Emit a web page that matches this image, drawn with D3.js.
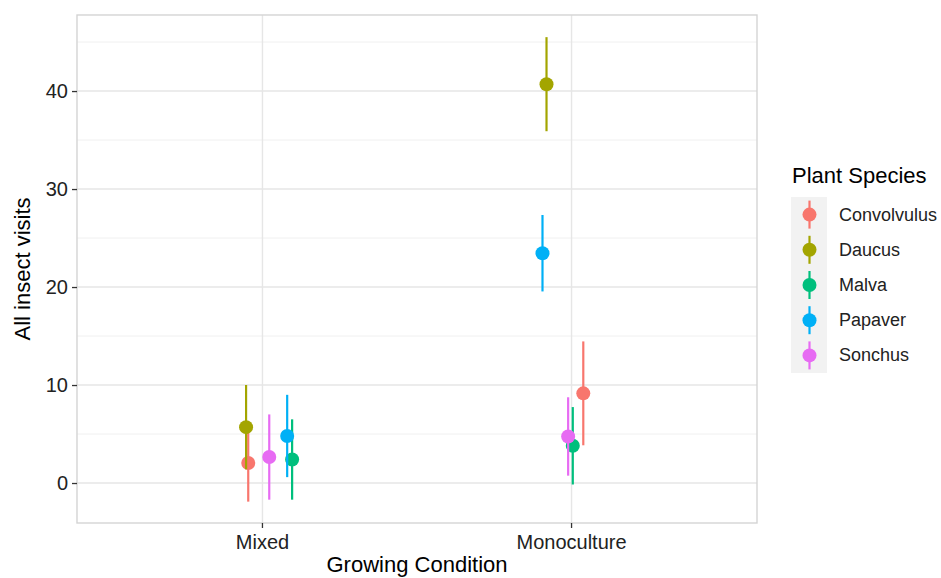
<!DOCTYPE html>
<html>
<head>
<meta charset="utf-8">
<script src="https://cdn.jsdelivr.net/npm/d3@7"></script>
<style>
  html, body { margin: 0; padding: 0; background: #fff; }
  svg { display: block; font-family: "Liberation Sans", Arial, sans-serif; }
</style>
</head>
<body>
<svg id="chart" width="941" height="578"></svg>
<script>
// ---- data ----
const conditions = ["Mixed", "Monoculture"];
const species = ["Convolvulus", "Daucus", "Malva", "Papaver", "Sonchus"];
const speciesColors = ["#F8766D", "#A3A500", "#00BF7D", "#00B0F6", "#E76BF3"];
// mean visits per species, [Mixed, Monoculture]
const meanMixed = [2.05, 5.7, 2.4, 4.8, 2.65];
const meanMono  = [9.15, 40.7, 3.8, 23.45, 4.75];
// error (± half-width)
const errMixed = [3.95, 4.3, 4.1, 4.2, 4.35];
const errMono  = [5.3, 4.8, 3.95, 3.9, 4.0];
// horizontal jitter (in category units)
const jitterMixed = [-0.046, -0.053, 0.096, 0.080, 0.022];
const jitterMono  = [0.038, -0.081, 0.004, -0.094, -0.011];
const yTicks = [0, 10, 20, 30, 40];
const yMinor = [5, 15, 25, 35, 45];

const rows = [];
species.forEach((s, i) => {
  rows.push({sp: s, ci: i, cond: "Mixed", m: meanMixed[i], e: errMixed[i], j: jitterMixed[i]});
  rows.push({sp: s, ci: i, cond: "Monoculture", m: meanMono[i], e: errMono[i], j: jitterMono[i]});
});

// ---- layout ----
const svg = d3.select("#chart");
const P = {left: 77, right: 757, top: 15, bottom: 523};

const y = d3.scaleLinear().domain([-4.08, 47.76]).range([P.bottom, P.top]);
const xc = d3.scaleLinear().domain([0.4, 2.6]).range([P.left, P.right]);
const xPos = c => xc(conditions.indexOf(c) + 1);
const color = d3.scaleOrdinal().domain(species).range(speciesColors);

const g = svg.append("g");

// grid
g.selectAll(".minor").data(yMinor).enter().append("line")
  .attr("x1", P.left).attr("x2", P.right)
  .attr("y1", d => y(d)).attr("y2", d => y(d))
  .attr("stroke", "#F0F0F0").attr("stroke-width", 1);
g.selectAll(".major").data(yTicks).enter().append("line")
  .attr("x1", P.left).attr("x2", P.right)
  .attr("y1", d => y(d)).attr("y2", d => y(d))
  .attr("stroke", "#E6E6E6").attr("stroke-width", 1.4);
g.selectAll(".vmajor").data(conditions).enter().append("line")
  .attr("x1", d => xPos(d)).attr("x2", d => xPos(d))
  .attr("y1", P.top).attr("y2", P.bottom)
  .attr("stroke", "#E6E6E6").attr("stroke-width", 1.4);

// marks
rows.forEach(r => {
  const cx = xc(conditions.indexOf(r.cond) + 1 + r.j);
  g.append("line")
    .attr("x1", cx).attr("x2", cx)
    .attr("y1", y(r.m - r.e)).attr("y2", y(r.m + r.e))
    .attr("stroke", color(r.sp)).attr("stroke-width", 2.2);
  g.append("circle")
    .attr("cx", cx).attr("cy", y(r.m)).attr("r", 7)
    .attr("fill", color(r.sp));
});

// panel border
g.append("rect")
  .attr("x", P.left).attr("y", P.top)
  .attr("width", P.right - P.left).attr("height", P.bottom - P.top)
  .attr("fill", "none").attr("stroke", "#D4D4D4").attr("stroke-width", 1.4);

// y axis
const yAxis = d3.axisLeft(y).tickValues(yTicks).tickSize(5).tickPadding(4);
const ya = svg.append("g").attr("transform", `translate(${P.left},0)`).call(yAxis);
ya.select(".domain").remove();
ya.selectAll(".tick line").attr("stroke", "#333").attr("stroke-width", 1.3);
ya.selectAll(".tick text").attr("font-size", 20).attr("fill", "#222")
  .attr("font-family", "Liberation Sans, Arial, sans-serif");

// x axis
const xb = d3.scaleBand().domain(conditions).range([xc(0.5), xc(2.5)]);
const xAxis = d3.axisBottom(xb).tickSize(5).tickPadding(7);
const xa = svg.append("g").attr("transform", `translate(0,${P.bottom})`).call(xAxis);
xa.select(".domain").remove();
xa.selectAll(".tick line").attr("stroke", "#333").attr("stroke-width", 1.3);
xa.selectAll(".tick text").attr("font-size", 20).attr("fill", "#222")
  .attr("font-family", "Liberation Sans, Arial, sans-serif");

// axis titles
svg.append("text")
  .attr("x", (P.left + P.right) / 2).attr("y", 572)
  .attr("text-anchor", "middle").attr("font-size", 22).attr("fill", "#000")
  .text("Growing Condition");
svg.append("text")
  .attr("transform", `translate(30,${(P.top + P.bottom) / 2}) rotate(-90)`)
  .attr("text-anchor", "middle").attr("font-size", 22).attr("fill", "#000")
  .text("All insect visits");

// legend
const L = {x: 791, y: 197, kw: 36, kh: 35.2};
svg.append("text").attr("x", 792).attr("y", 183)
  .attr("font-size", 22).attr("fill", "#000").text("Plant Species");
const lg = svg.append("g");
lg.append("rect").attr("x", L.x).attr("y", L.y)
  .attr("width", L.kw).attr("height", L.kh * species.length)
  .attr("fill", "#F2F2F2");
species.forEach((s, i) => {
  const cy = L.y + L.kh * i + L.kh / 2;
  const cx = L.x + L.kw / 2 + 0.5;
  lg.append("line").attr("x1", cx).attr("x2", cx)
    .attr("y1", cy - 14).attr("y2", cy + 14)
    .attr("stroke", color(s)).attr("stroke-width", 2.2);
  lg.append("circle").attr("cx", cx).attr("cy", cy).attr("r", 7).attr("fill", color(s));
  lg.append("text").attr("x", 839).attr("y", cy + 6)
    .attr("font-size", 18).attr("fill", "#222").text(s);
});
</script>
</body>
</html>
